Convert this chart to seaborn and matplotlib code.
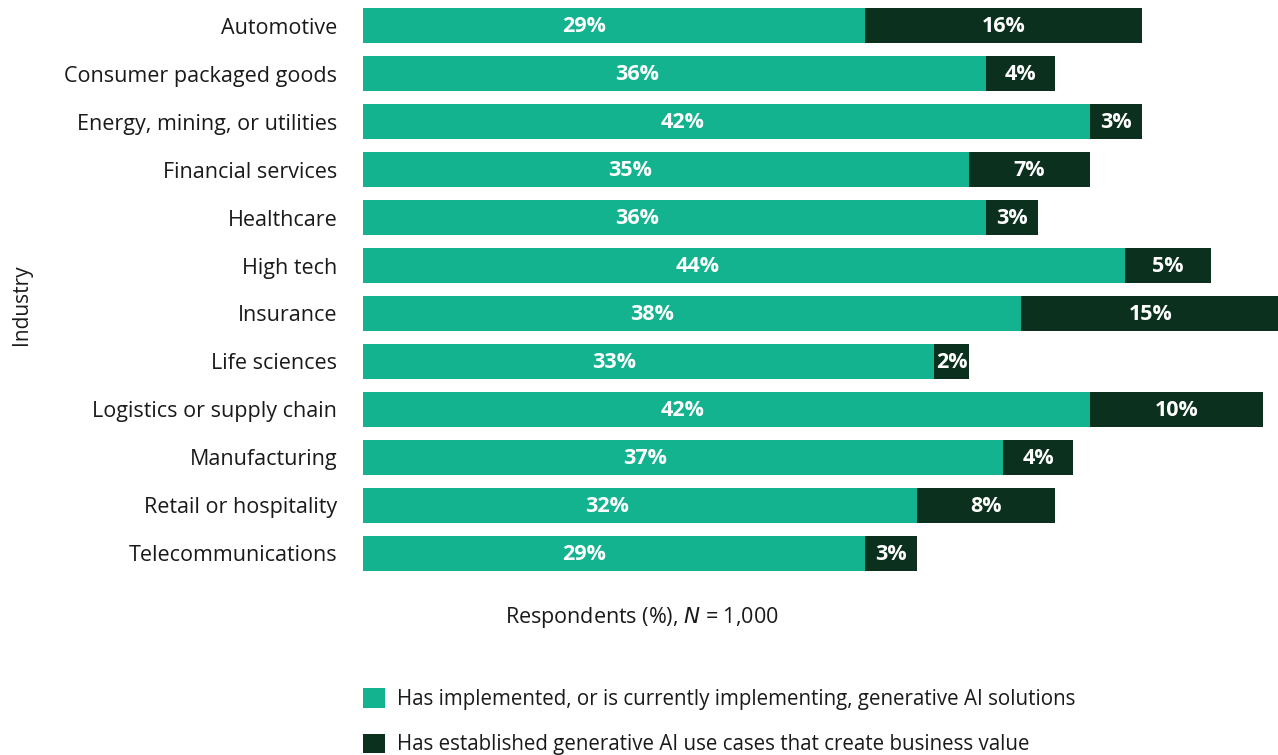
import matplotlib
matplotlib.use("Agg")
import matplotlib.pyplot as plt
from matplotlib.patches import Patch
import seaborn as sns
import pandas as pd

industries = [
    "Automotive", "Consumer packaged goods", "Energy, mining, or utilities",
    "Financial services", "Healthcare", "High tech", "Insurance",
    "Life sciences", "Logistics or supply chain", "Manufacturing",
    "Retail or hospitality", "Telecommunications",
]
implementing = [29, 36, 42, 35, 36, 44, 38, 33, 42, 37, 32, 29]
value_created = [16, 4, 3, 7, 3, 5, 15, 2, 10, 4, 8, 3]
series_labels = [
    "Has implemented, or is currently implementing, generative AI solutions",
    "Has established generative AI use cases that create business value",
]

TEAL = "#13B38F"
DARK = "#0B311E"
# where inside the teal segment its label sits (fraction of segment length)
TEAL_LABEL_FRAC = 0.44

df = pd.DataFrame({
    "industry": industries,
    "implementing": implementing,
    "value_created": value_created,
})
df["total"] = df["implementing"] + df["value_created"]

sns.set_theme(style="white")
plt.rcParams["font.family"] = ["Open Sans", "DejaVu Sans"]

W, H = 1278, 755
fig = plt.figure(figsize=(W / 100, H / 100), dpi=100)
ax = fig.add_axes([363 / W, 1 - 577 / H, (1278 - 363) / W, 575 / H])

bar_h = 0.73
sns.barplot(data=df, x="total", y="industry", color=DARK, width=bar_h,
            saturation=1, linewidth=0, ax=ax, orient="h")
sns.barplot(data=df, x="implementing", y="industry", color=TEAL, width=bar_h,
            saturation=1, linewidth=0, ax=ax, orient="h")

for i, (a, b) in enumerate(zip(implementing, value_created)):
    ax.text(a * TEAL_LABEL_FRAC, i + 0.02, f"{a}%", ha="center", va="center",
            color="white", fontsize=15.5, fontweight="bold")
    ax.text(a + b / 2, i + 0.02, f"{b}%", ha="center", va="center",
            color="white", fontsize=15.5, fontweight="bold")

ax.set_xlim(0, (1278 - 363) / 17.31)
ax.set_ylim(11.5, -0.5)
ax.set_xticks([])
ax.set_xlabel("")
ax.set_ylabel("")
ax.tick_params(axis="y", length=0, pad=18.5, labelsize=15.5)
for lbl in ax.get_yticklabels():
    lbl.set_color("#1a1a1a")
sns.despine(ax=ax, left=True, bottom=True)

fig.text(642 / W, 1 - 617 / H, "Respondents (%), $N$ = 1,000",
         ha="center", va="center", fontsize=15.5, color="#1a1a1a")
fig.text(22 / W, 1 - 305 / H, "Industry", rotation=90,
         ha="center", va="center", fontsize=15, color="#1a1a1a")

handles = [Patch(facecolor=TEAL, edgecolor="none"),
           Patch(facecolor=DARK, edgecolor="none")]
fig.legend(handles, series_labels, loc="upper left",
           bbox_to_anchor=(355 / W, 1 - 680 / H), frameon=False,
           fontsize=14.8, handlelength=1.07, handleheight=1.07,
           handletextpad=0.55, labelspacing=1.15, borderaxespad=0,
           labelcolor="#1a1a1a")

fig.savefig("out.png", dpi=100)
